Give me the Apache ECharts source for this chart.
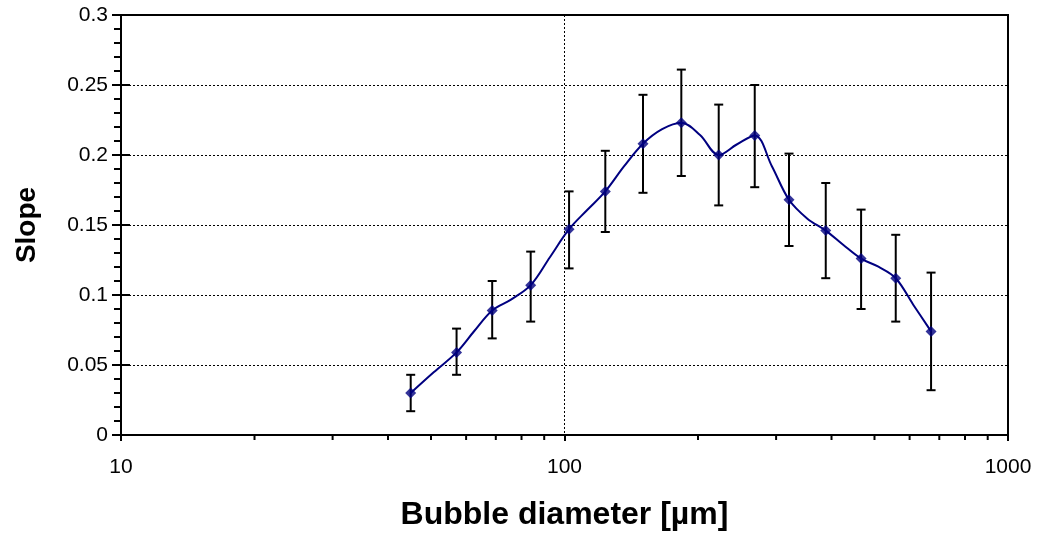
<!DOCTYPE html>
<html><head><meta charset="utf-8">
<script src="https://cdn.jsdelivr.net/npm/echarts@6/dist/echarts.min.js"></script>
<style>html,body{margin:0;padding:0;background:#fff}#c{width:1041px;height:533px}</style>
</head><body><div id="c"></div>
<script>
// Measured points (bubble diameter in µm, slope)
const diameters = [45.0, 57.1, 68.7, 83.9, 102.4, 123.6, 150.3, 183.4, 222.7, 268.5, 320.8, 388.2, 466.4, 558.3, 670.7];
const slopes    = [0.030, 0.059, 0.089, 0.107, 0.147, 0.174, 0.208, 0.223, 0.200, 0.214, 0.168, 0.146, 0.126, 0.112, 0.074];
const upperErr  = [0.043, 0.076, 0.110, 0.131, 0.174, 0.203, 0.243, 0.261, 0.236, 0.250, 0.201, 0.180, 0.161, 0.143, 0.116];
const lowerErr  = [0.017, 0.043, 0.069, 0.081, 0.119, 0.145, 0.173, 0.185, 0.164, 0.177, 0.135, 0.112, 0.090, 0.081, 0.032];
// Intermediate curve points read between the markers
const curveX = [50.7, 62.6, 75.9, 92.7, 112.5, 136.3, 166.0, 202.1, 244.5, 293.5, 352.9, 425.5, 510.3, 611.9];
const curveY = [0.0448, 0.0743, 0.0969, 0.127, 0.1607, 0.192, 0.2184, 0.2143, 0.2075, 0.192, 0.1545, 0.1357, 0.1202, 0.0929];
const xMinorTicks = [20, 30, 40, 50, 60, 70, 80, 90, 200, 300, 400, 500, 600, 700, 800, 900];
const yTickLabels = ['0', '0.05', '0.1', '0.15', '0.2', '0.25', '0.3'];

const curve = [];
for (let i = 0; i < diameters.length; i++) {
  curve.push([diameters[i], slopes[i]]);
  if (i < curveX.length) curve.push([curveX[i], curveY[i]]);
}
const errData = diameters.map((d, i) => [d, lowerErr[i], upperErr[i]]);
const points = diameters.map((d, i) => [d, slopes[i]]);

const FONT = 'Liberation Sans';
const chart = echarts.init(document.getElementById('c'));
chart.setOption({
  animation: false,
  backgroundColor: '#fff',
  grid: { left: 121, right: 33, top: 15, bottom: 98, containLabel: false, outerBoundsMode: 'none',
    show: true, borderColor: '#000', borderWidth: 2, backgroundColor: 'transparent' },
  xAxis: {
    type: 'log', logBase: 10, min: 10, max: 1000,
    name: 'Bubble diameter [µm]', nameLocation: 'middle', nameGap: 64,
    nameTextStyle: { fontFamily: FONT, fontSize: 32, fontWeight: 'bold', color: '#000' },
    axisLine: { lineStyle: { color: '#000', width: 2 } },
    axisTick: { length: 6, lineStyle: { color: '#000', width: 2 } },
    minorTick: { show: false },
    axisLabel: { fontFamily: FONT, fontSize: 21, color: '#000', margin: 22,
      formatter: v => String(Math.round(v)) },
    splitLine: { show: true, lineStyle: { color: '#000', width: 1, type: [2, 2] } }
  },
  yAxis: [{
    type: 'value', min: 0, max: 0.3, interval: 0.05,
    name: 'Slope', nameLocation: 'middle', nameGap: 80,
    nameTextStyle: { fontFamily: FONT, fontSize: 28, fontWeight: 'bold', color: '#000' },
    axisLine: { lineStyle: { color: '#000', width: 2 } },
    axisTick: { length: 9, lineStyle: { color: '#000', width: 2 } },
    minorTick: { show: true, splitNumber: 5, length: 7, lineStyle: { color: '#000', width: 2 } },
    axisLabel: { fontFamily: FONT, fontSize: 21, color: '#000', margin: 13,
      formatter: v => yTickLabels[Math.round(v / 0.05)] },
    splitLine: { show: true, lineStyle: { color: '#000', width: 1, type: [2, 2] } }
  }, {
    type: 'value', min: 0, max: 0.3, interval: 0.05, position: 'left', offset: 0,
    axisLine: { show: false },
    axisTick: { show: true, inside: true, length: 9, lineStyle: { color: '#000', width: 2 } },
    axisLabel: { show: false }, splitLine: { show: false }
  }],
  series: [{
    type: 'custom', name: 'minorX', data: xMinorTicks.map(v => [v, 0]), silent: true, z: 5,
    renderItem: (params, api) => {
      const p = api.coord([api.value(0), 0]);
      return { type: 'line', shape: { x1: p[0], y1: p[1], x2: p[0], y2: p[1] + 5 }, style: { stroke: '#000', lineWidth: 2 } };
    }
  }, {
    type: 'custom', name: 'err', data: errData, silent: true, z: 2,
    renderItem: (params, api) => {
      const x = api.value(0);
      const lo = api.coord([x, api.value(1)]);
      const hi = api.coord([x, api.value(2)]);
      const w = 4.5;
      const st = { stroke: '#000', lineWidth: 2 };
      return { type: 'group', children: [
        { type: 'line', shape: { x1: lo[0], y1: lo[1], x2: hi[0], y2: hi[1] }, style: st },
        { type: 'line', shape: { x1: hi[0] - w, y1: hi[1], x2: hi[0] + w, y2: hi[1] }, style: st },
        { type: 'line', shape: { x1: lo[0] - w, y1: lo[1], x2: lo[0] + w, y2: lo[1] }, style: st }
      ]};
    }
  }, {
    type: 'line', name: 'curve', data: curve, smooth: 0.35, showSymbol: false, z: 3,
    lineStyle: { color: '#000080', width: 2 }
  }, {
    type: 'scatter', name: 'points', data: points, symbol: 'diamond', symbolSize: 11, z: 4,
    itemStyle: { color: '#000080' }
  }]
});
</script></body></html>
